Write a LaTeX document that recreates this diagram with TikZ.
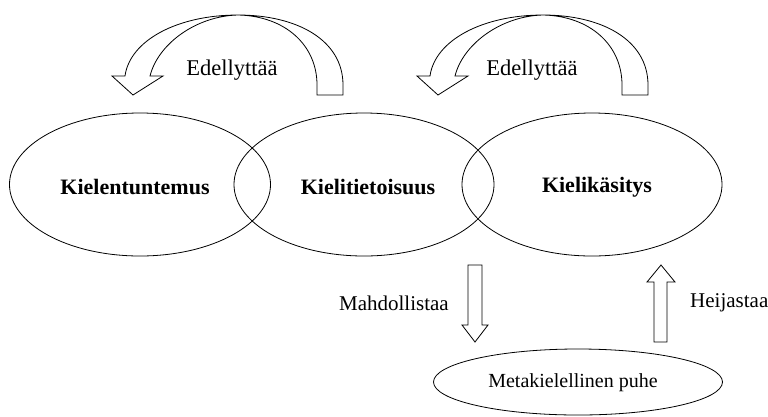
\documentclass[tikz,border=0pt]{standalone}
\usepackage{fontspec}
\setmainfont{Liberation Serif}
\usetikzlibrary{shapes.geometric}
\tikzset{
  ell/.style={draw, ellipse, line width=0.8pt, inner sep=0pt},
  lbl/.style={font=\fontsize{21}{24}\selectfont, inner sep=0pt},
  blbl/.style={font=\fontsize{22}{25}\selectfont\bfseries, inner sep=0pt},
  blockarrow/.style={draw, fill=white, line width=0.8pt, line join=miter},
}
\begin{document}
\begin{tikzpicture}[x=1pt,y=-1pt]
\useasboundingbox (0,0) rectangle (768,416);
% ellipses
\node[ell, minimum width=261, minimum height=143] (e1) at (140,184.5) {};
\node[ell, minimum width=260, minimum height=143] (e2) at (364,184.5) {};
\node[ell, minimum width=260, minimum height=143] (e3) at (592,184.5) {};
\node[ell, minimum width=289, minimum height=66] (e4) at (578,382) {};
\node[blbl] (t1) at (135,187) {Kielentuntemus};
\node[blbl] (t2) at (368,187) {Kielitietoisuus};
\node[blbl] (t3) at (597,187) {Kielikäsitys};
\node[lbl, font=\fontsize{20}{23}\selectfont] (t4) at (573,383) {Metakielellinen puhe};
% curved arrows
\foreach \dx in {0,305}{
\begin{scope}[shift={(\dx,0)}]
\draw[blockarrow] (343,95) -- (343,85) .. controls (343,40) and (297,15) .. (238,15)
  .. controls (178,15) and (130,40) .. (125,76) -- (112,76) -- (133,95) -- (163,76) -- (150,76)
  .. controls (158,44) and (196,16) .. (238,15)
  .. controls (285,16) and (317,45) .. (317,85) -- (317,95) -- cycle;
\end{scope}}
\node[lbl, font=\fontsize{22.5}{25}\selectfont] (l1) at (232,70) {Edellyttää};
\node[lbl, font=\fontsize{22.5}{25}\selectfont] (l2) at (532,70) {Edellyttää};
% straight block arrows
\draw[blockarrow] (468,265) -- (482,265) -- (482,325) -- (488,325) -- (475,342) -- (462,325) -- (468,325) -- cycle;
\draw[blockarrow] (654,342) -- (667,342) -- (667,282) -- (675,282) -- (661,265) -- (647,282) -- (654,282) -- cycle;
\node[lbl] (l3) [anchor=east] at (449,303) {Mahdollistaa};
\node[lbl] (l4) [anchor=west] at (690,303) {Heijastaa};
\end{tikzpicture}
\end{document}
